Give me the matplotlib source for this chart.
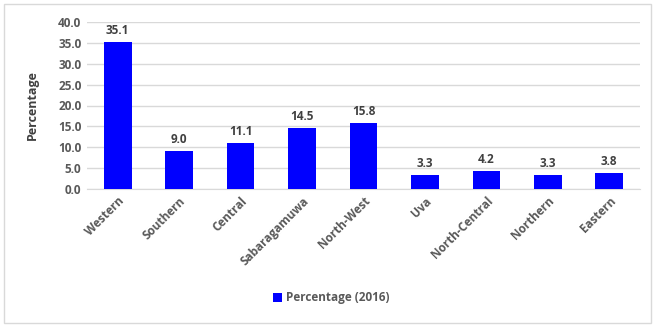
import matplotlib
matplotlib.use("Agg")
import matplotlib.pyplot as plt
from matplotlib.patches import Rectangle

plt.rcParams['font.family'] = ['Open Sans', 'DejaVu Sans']

provinces = ["Western", "Southern", "Central", "Sabaragamuwa", "North-West",
             "Uva", "North-Central", "Northern", "Eastern"]
percentage_2016 = [35.1, 9.0, 11.1, 14.5, 15.8, 3.3, 4.2, 3.3, 3.8]
yticks = [0, 5, 10, 15, 20, 25, 30, 35, 40]

TEXT = "#595959"
GRID = "#d9d9d9"
BLUE = "#0000ff"

fig = plt.figure(figsize=(6.56, 3.27), dpi=100)
fig.patches.append(Rectangle((4/656, 4/327), 647/656, 319/327, transform=fig.transFigure,
                             fill=False, edgecolor=GRID, linewidth=1))
ax = fig.add_axes([87/656, 1 - 189/327, 553/656, 167/327])

x = range(len(provinces))
bars = ax.bar(x, percentage_2016, width=0.45, color=BLUE, label="Percentage (2016)", zorder=3)
for b, v in zip(bars, percentage_2016):
    ax.text(b.get_x() + b.get_width()/2, v + 1.2, f"{v:.1f}", ha="center", va="bottom",
            fontsize=8.5, fontweight="bold", color="#404040")

ax.set_ylim(0, 40)
ax.set_xlim(-0.5, len(provinces) - 0.5)
ax.set_yticks(yticks)
ax.set_yticklabels([f"{t:.1f}" for t in yticks], fontsize=8.5, fontweight="bold", color=TEXT)
ax.set_xticks(list(x))
ax.set_xticklabels(provinces, rotation=45, ha="right", rotation_mode="anchor",
                   fontsize=8.5, fontweight="bold", color=TEXT)
ax.tick_params(length=0, pad=4)
ax.yaxis.grid(True, color=GRID, linewidth=1, zorder=0)
for s in ["top", "right", "left"]:
    ax.spines[s].set_visible(False)
ax.spines["bottom"].set_color(GRID)
ax.set_ylabel("Percentage", fontsize=9, fontweight="bold", color="#404040", labelpad=14)

leg = fig.legend(handles=[bars], labels=["Percentage (2016)"], loc="center",
                 bbox_to_anchor=(331/656, 1 - 298/327), frameon=False,
                 prop={"size": 8.5, "weight": "bold"}, handlelength=0.8, handleheight=0.8,
                 handletextpad=0.3)
for t in leg.get_texts():
    t.set_color(TEXT)

fig.savefig("out.png", dpi=100)
